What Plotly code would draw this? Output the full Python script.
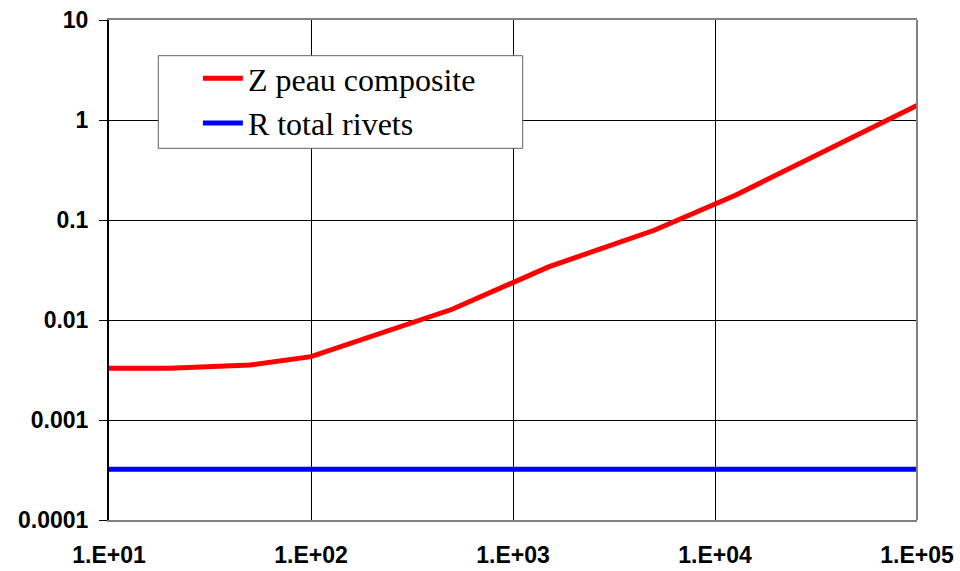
import plotly.graph_objects as go

# Frequency (Hz) and impedance / resistance values (Ohm)
freq = [10, 20, 50, 100, 500, 1500, 5000, 12700, 100000]
z_peau = [0.0033, 0.0033, 0.00355, 0.0043, 0.0128, 0.034, 0.079, 0.178, 1.40]

freq_rivets = [10, 100000]
r_rivets = [0.000321, 0.000321]

x_ticks = [10, 100, 1000, 10000, 100000]
x_tick_text = ["1.E+01", "1.E+02", "1.E+03", "1.E+04", "1.E+05"]
y_ticks = [0.0001, 0.001, 0.01, 0.1, 1, 10]
y_tick_text = ["0.0001", "0.001", "0.01", "0.1", "1", "10"]

fig = go.Figure()
fig.add_trace(go.Scatter(
    x=freq, y=z_peau, mode="lines", name="Z peau composite",
    line=dict(color="#ff0000", width=5),
))
fig.add_trace(go.Scatter(
    x=freq_rivets, y=r_rivets, mode="lines", name="R total rivets",
    line=dict(color="#0000ff", width=5),
))

tick_font = dict(family="Liberation Sans, Arial", size=23, color="black", weight="bold")

fig.update_layout(
    width=960, height=571,
    margin=dict(l=109, r=43, t=20, b=51, autoexpand=False),
    paper_bgcolor="white", plot_bgcolor="white",
    showlegend=True,
    legend=dict(
        x=0.110, y=0.938, xanchor="left", yanchor="top",
        bgcolor="rgba(0,0,0,0)", borderwidth=0,
        font=dict(family="Liberation Serif, Times New Roman", size=32, color="black"),
        itemwidth=40, tracegroupgap=0,
    ),
    xaxis=dict(
        type="log", range=[1, 5], automargin=False,
        tickvals=x_ticks, ticktext=x_tick_text, tickfont=tick_font,
        showgrid=True, gridcolor="#000000", gridwidth=1,
        showline=True, linecolor="#808080", linewidth=2, mirror=True,
        ticks="", ticklabelstandoff=13, zeroline=False,
    ),
    yaxis=dict(
        type="log", range=[-4, 1], automargin=False,
        tickvals=y_ticks, ticktext=y_tick_text, tickfont=tick_font,
        showgrid=True, gridcolor="#000000", gridwidth=1,
        showline=True, linecolor="#000000", linewidth=2,
        ticks="outside", ticklen=8, tickcolor="#000000", tickwidth=1,
        ticklabelstandoff=6, zeroline=False,
    ),
    shapes=[
        # right-hand frame edge
        dict(type="line", xref="paper", yref="paper", x0=1, x1=1, y0=0, y1=1,
             line=dict(color="#808080", width=2), layer="above"),
        # legend box
        dict(type="rect", xref="paper", yref="paper",
             x0=0.061, x1=0.512, y0=0.7434, y1=0.9286,
             fillcolor="white", line=dict(color="#606060", width=1), layer="above"),
    ],
)

fig.write_html("out.html")
